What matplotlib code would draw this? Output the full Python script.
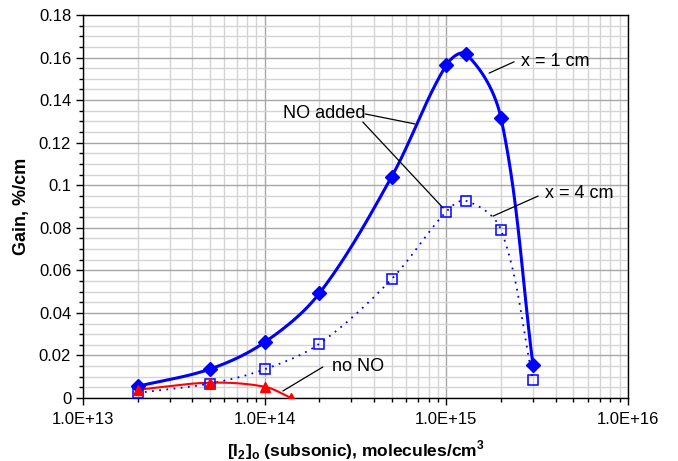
import matplotlib.pyplot as plt
import numpy as np
from matplotlib.ticker import FixedLocator, LogLocator, FuncFormatter, MultipleLocator

plt.rcParams['font.family'] = ['Liberation Sans', 'DejaVu Sans']
plt.rcParams['mathtext.fontset'] = 'custom'
plt.rcParams['mathtext.rm'] = 'Liberation Sans'
plt.rcParams['mathtext.bf'] = 'Liberation Sans:bold'

# data
conc_1cm = [2e13, 5e13, 1e14, 2e14, 5e14, 1e15, 1.29e15, 2e15, 3e15]
gain_1cm = [0.0055, 0.0136, 0.0262, 0.0492, 0.104, 0.1565, 0.1615, 0.1315, 0.0154]
conc_4cm = [2e13, 5e13, 1e14, 2e14, 5e14, 1e15, 1.29e15, 2e15, 3e15]
gain_4cm = [0.0024, 0.0068, 0.0135, 0.0255, 0.0559, 0.0876, 0.0926, 0.079, 0.0085]
conc_nono = [2e13, 5e13, 1e14, 1.4e14]
gain_nono = [0.0039, 0.0072, 0.0053, 0.0]

xticks = [1e13, 1e14, 1e15, 1e16]

W, H = 545.0, 383.0  # axes size in pixels, used to smooth like Excel


def smooth(xs, ys, n=60):
    # bezier smoothing in screen-like space (log x), tangent from neighbours,
    # handle length a third of the segment
    u = (np.log10(xs) - 13) / 3 * W
    v = np.array(ys) / 0.18 * H
    P = np.column_stack([u, v])
    m = len(P)
    tang = []
    for i in range(m):
        d = P[min(i + 1, m - 1)] - P[max(i - 1, 0)]
        tang.append(d / np.hypot(*d))
    out = []
    t = np.linspace(0, 1, n)[:, None]
    for i in range(m - 1):
        p0, p3 = P[i], P[i + 1]
        L = np.hypot(*(p3 - p0))
        c1 = p0 + tang[i] * L / 3
        c2 = p3 - tang[i + 1] * L / 3
        seg = (1 - t) ** 3 * p0 + 3 * (1 - t) ** 2 * t * c1 + 3 * (1 - t) * t ** 2 * c2 + t ** 3 * p3
        out.append(seg)
    out = np.vstack(out)
    return 10 ** (13 + out[:, 0] / W * 3), out[:, 1] / H * 0.18


fig = plt.figure(figsize=(6.78, 4.61), dpi=100)
ax = fig.add_axes([83 / 678, 1 - 398 / 461, 545 / 678, 383 / 461])
ax.set_xscale('log')
ax.set_xlim(1e13, 1e16)
ax.set_ylim(0, 0.18)

sx, sy = smooth(conc_1cm, gain_1cm)
ax.plot(sx, sy, color='#0000ff', lw=2.2, zorder=3)
ax.plot(conc_1cm, gain_1cm, 'D', color='#0000ff', ms=7, zorder=4)

sx, sy = smooth(conc_4cm, gain_4cm)
ax.plot(sx, sy, color='#0000ff', lw=1.3, dashes=(1, 3), zorder=3)
ax.plot(conc_4cm, gain_4cm, 's', mfc='none', mec='#0000ff', mew=1.1, ms=7.5, zorder=4)

sx, sy = smooth(conc_nono, gain_nono)
ax.plot(sx, sy, color='#ff0000', lw=1.5, zorder=3)
ax.plot(conc_nono, gain_nono, '^', color='#ff0000', ms=6.5, zorder=4)

# ticks and grid
ax.xaxis.set_major_locator(FixedLocator(xticks))
ax.xaxis.set_minor_locator(LogLocator(base=10, subs=np.arange(2, 10)))
ax.xaxis.set_major_formatter(FuncFormatter(lambda v, p: '1.0E+%d' % round(np.log10(v))))
ax.xaxis.set_minor_formatter(FuncFormatter(lambda v, p: ''))
ax.yaxis.set_major_locator(MultipleLocator(0.02))
ax.yaxis.set_minor_locator(MultipleLocator(0.005))
ax.yaxis.set_major_formatter(FuncFormatter(lambda v, p: ('%g' % round(v, 3))))
ax.tick_params(which='major', direction='out', length=5, width=1, labelsize=12, colors='black')
ax.tick_params(which='minor', direction='out', length=3, width=1)
ax.tick_params(axis='x', pad=5)
ax.grid(which='major', color='#a6a6a6', lw=1)
ax.grid(which='minor', color='#d4d4d4', lw=1)
ax.set_axisbelow(True)
for s in ax.spines.values():
    s.set_linewidth(1)
    s.set_color('black')

ax.set_xlabel(r'[I$_\mathbf{2}$]$_\mathbf{o}$ (subsonic), molecules/cm$^\mathbf{3}$',
              fontsize=12.5, fontweight='bold', labelpad=8)
ax.set_ylabel('Gain, %/cm', fontsize=13, fontweight='bold', labelpad=6)

# annotations
line = dict(arrowstyle='-', color='black', lw=0.9, shrinkA=0, shrinkB=0)
ax.text(2.58e15, 0.158, 'x = 1 cm', fontsize=13, va='center', ha='left')
ax.annotate('', xy=(1.72e15, 0.1527), xytext=(2.36e15, 0.158), arrowprops=line)
ax.text(2.12e14, 0.1335, 'NO added', fontsize=13, va='center', ha='center')
ax.annotate('', xy=(6.72e14, 0.1288), xytext=(3.57e14, 0.1335), arrowprops=line)
ax.annotate('', xy=(9.6e14, 0.0893), xytext=(3.47e14, 0.1297), arrowprops=line)
ax.text(3.49e15, 0.0959, 'x = 4 cm', fontsize=13, va='center', ha='left')
ax.annotate('', xy=(1.81e15, 0.0855), xytext=(3.2e15, 0.0949), arrowprops=line)
ax.text(2.35e14, 0.0150, 'no NO', fontsize=13, va='center', ha='left')
ax.annotate('', xy=(1.26e14, 0.0033), xytext=(2.09e14, 0.01457), arrowprops=line)

fig.savefig('out.png', dpi=100)
